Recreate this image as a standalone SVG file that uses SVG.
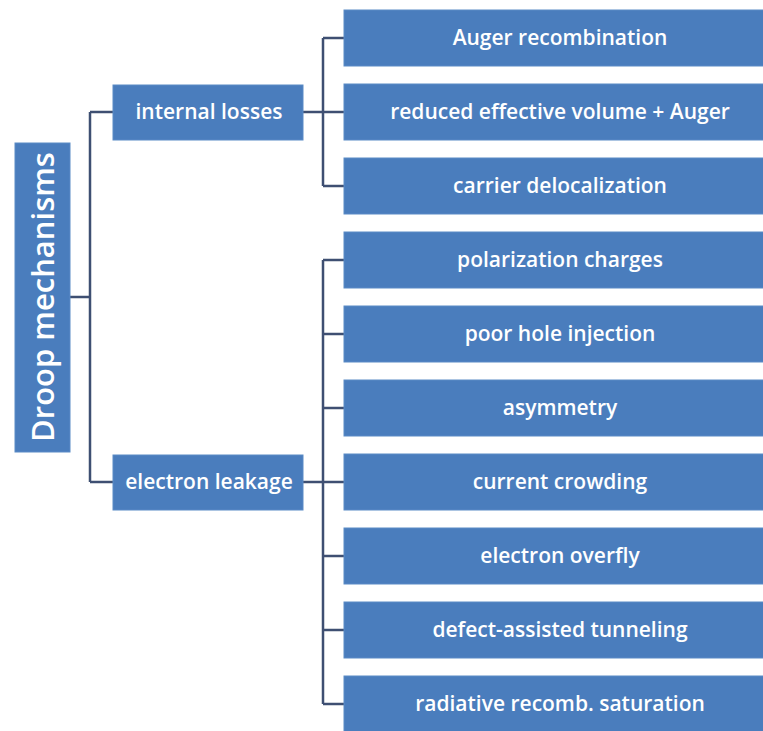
<svg xmlns="http://www.w3.org/2000/svg" width="763" height="731" viewBox="0 0 763 731">
<style>
.box{fill:#4a7dbd;stroke:#5b8bc6;stroke-width:1}
.t{font-family:"Open Sans","Noto Sans","Liberation Sans",sans-serif;font-weight:600;font-size:21px;fill:#ffffff;text-anchor:middle;dominant-baseline:central}
.root{font-size:31px}
.c{fill:none;stroke:#3e4f72;stroke-width:2.5}
</style>
<rect width="763" height="731" fill="#ffffff"/>
<g id="connectors">
<path class="c" d="M70 297H90M90 112V482M90 112H113M90 482H113"/>
<path class="c" d="M303 112H323M323 38V186M323 38H344M323 112H344M323 186H344"/>
<path class="c" d="M303 482H323M323 260V704M323 260H344M323 334H344M323 408H344M323 482H344M323 556H344M323 630H344M323 704H344"/>
</g>
<g id="root"><rect class="box" x="15" y="143" width="55" height="309"/><text class="t root" transform="translate(42 297) rotate(-90)">Droop mechanisms</text></g>
<g id="internal"><rect class="box" x="113" y="85" width="190" height="55"/><text class="t" x="209" y="111">internal losses</text></g>
<g id="leakage"><rect class="box" x="113" y="455" width="190" height="55"/><text class="t" x="209" y="481">electron leakage</text></g>
<g id="n1"><rect class="box" x="344" y="10" width="430" height="56"/><text class="t" x="560" y="37">Auger recombination</text></g>
<g id="n2"><rect class="box" x="344" y="84" width="430" height="56"/><text class="t" x="560" y="111">reduced effective volume + Auger</text></g>
<g id="n3"><rect class="box" x="344" y="158" width="430" height="56"/><text class="t" x="560" y="185">carrier delocalization</text></g>
<g id="n4"><rect class="box" x="344" y="232" width="430" height="56"/><text class="t" x="560" y="259">polarization charges</text></g>
<g id="n5"><rect class="box" x="344" y="306" width="430" height="56"/><text class="t" x="560" y="333">poor hole injection</text></g>
<g id="n6"><rect class="box" x="344" y="380" width="430" height="56"/><text class="t" x="560" y="407">asymmetry</text></g>
<g id="n7"><rect class="box" x="344" y="454" width="430" height="56"/><text class="t" x="560" y="481">current crowding</text></g>
<g id="n8"><rect class="box" x="344" y="528" width="430" height="56"/><text class="t" x="560" y="555">electron overfly</text></g>
<g id="n9"><rect class="box" x="344" y="602" width="430" height="56"/><text class="t" x="560" y="629">defect-assisted tunneling</text></g>
<g id="n10"><rect class="box" x="344" y="676" width="430" height="56"/><text class="t" x="560" y="703">radiative recomb. saturation</text></g>
</svg>
